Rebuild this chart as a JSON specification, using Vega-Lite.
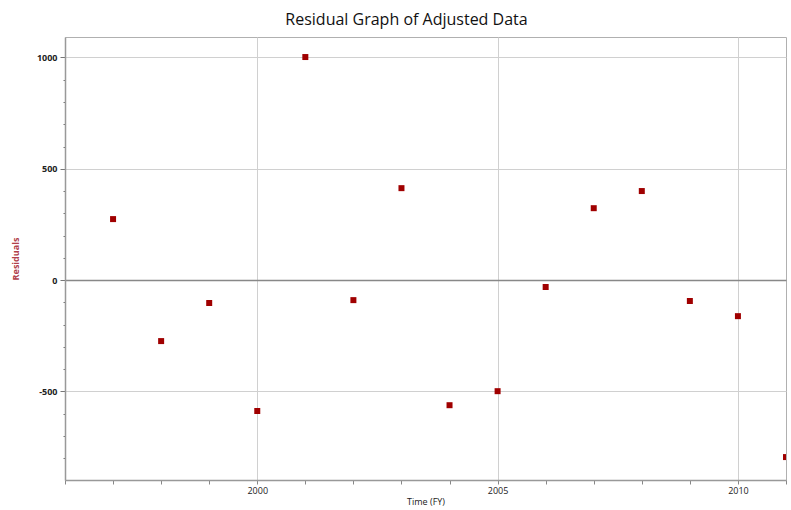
{
  "$schema": "https://vega.github.io/schema/vega-lite/v6.json",
  "autosize": "none",
  "width": 721,
  "height": 443,
  "padding": {"left": 65, "top": 37, "right": 5, "bottom": 30},
  "background": "white",
  "title": {"text": "Residual Graph of Adjusted Data", "font": "Open Sans", "fontSize": 16, "fontWeight": "normal", "color": "#111", "offset": 9, "dx": -19},
  "config": {"view": {"stroke": "#b0b0b0", "strokeWidth": 1}},
  "data": {"values": [
    {"year": 1997, "residual": 274},
    {"year": 1998, "residual": -274},
    {"year": 1999, "residual": -103},
    {"year": 2000, "residual": -588},
    {"year": 2001, "residual": 1002},
    {"year": 2002, "residual": -90},
    {"year": 2003, "residual": 413},
    {"year": 2004, "residual": -562},
    {"year": 2005, "residual": -499},
    {"year": 2006, "residual": -31},
    {"year": 2007, "residual": 323},
    {"year": 2008, "residual": 400},
    {"year": 2009, "residual": -94},
    {"year": 2010, "residual": -162},
    {"year": 2011, "residual": -795}
  ]},
  "mark": {"type": "square", "size": 36, "color": "#a00000", "opacity": 1, "filled": true, "clip": true},
  "encoding": {
    "x": {"field": "year", "type": "quantitative", "scale": {"domain": [1996, 2011], "nice": false, "zero": false},
      "axis": {"title": "Time (FY)", "titleFont": "Open Sans", "titleFontSize": 9, "titleFontWeight": "normal", "titleColor": "#222", "titlePadding": 2,
        "values": [1996,1997,1998,1999,2000,2001,2002,2003,2004,2005,2006,2007,2008,2009,2010,2011],
        "labelExpr": "datum.value % 5 === 0 ? toString(datum.value) : ''",
        "labelFont": "Open Sans", "labelFontSize": 9, "labelColor": "#222", "labelPadding": 2,
        "tickSize": 4, "tickColor": "#888", "domainColor": "#999", "domainWidth": 1.5,
        "grid": true, "gridColor": "#d0d0d0", "gridWidth": 1,
        "gridOpacity": {"condition": {"test": "datum.value % 5 === 0", "value": 1}, "value": 0}}},
    "y": {"field": "residual", "type": "quantitative", "scale": {"domain": [-898, 1092], "nice": false, "zero": false},
      "axis": {"title": "Residuals", "titleFont": "Open Sans", "titleFontSize": 9, "titleFontWeight": "bold", "titleColor": "#b0404a", "titlePadding": 16,
        "values": [-800,-700,-600,-500,-400,-300,-200,-100,0,100,200,300,400,500,600,700,800,900,1000],
        "labelExpr": "datum.value % 500 === 0 ? toString(datum.value) : ''",
        "labelFont": "Open Sans", "labelFontSize": 9, "labelColor": "#222", "labelFontWeight": "bold", "labelPadding": 3,
        "tickSize": {"condition": {"test": "datum.value % 500 === 0", "value": 5}, "value": 2},
        "tickColor": "#777", "domainColor": "#999", "domainWidth": 1.5,
        "grid": true,
        "gridColor": {"condition": {"test": "datum.value === 0", "value": "#888"}, "value": "#d0d0d0"},
        "gridWidth": {"condition": {"test": "datum.value === 0", "value": 1.5}, "value": 1},
        "gridOpacity": {"condition": {"test": "datum.value % 500 === 0", "value": 1}, "value": 0}}}
  }
}
